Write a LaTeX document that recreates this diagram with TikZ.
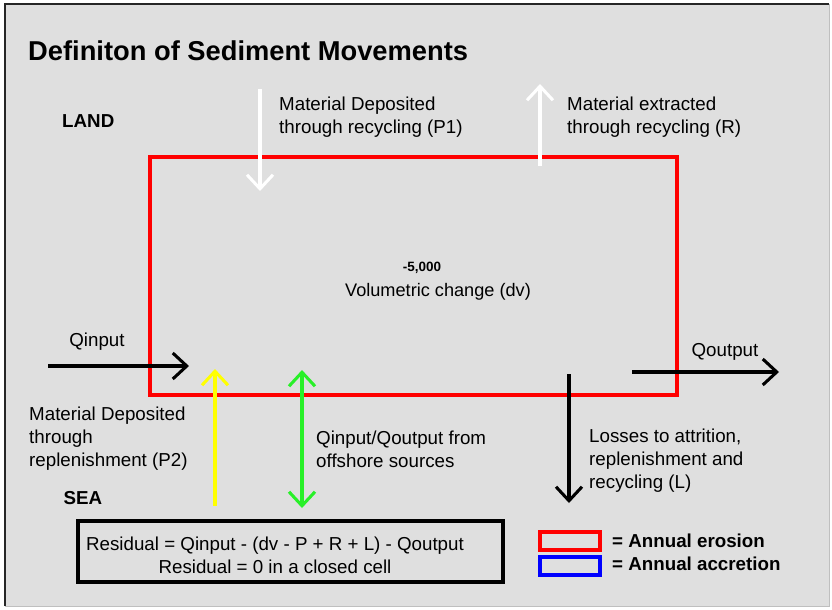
\documentclass[tikz,border=0pt]{standalone}
\usepackage{fontspec}
\setmainfont{Liberation Sans}
\usetikzlibrary{arrows.meta}
\definecolor{panel}{RGB}{223,223,223}
\definecolor{erosion}{RGB}{255,0,0}
\definecolor{accretion}{RGB}{0,0,255}
\definecolor{replen}{RGB}{255,255,0}
\definecolor{offshore}{RGB}{40,240,40}

\begin{document}
\begin{tikzpicture}[x=0.03cm,y=-0.03cm,
		>={Straight Barb[length=4.2mm,width=7.8mm]},
		flow/.style={line width=2.6pt},
		lbl/.style={font=\fontsize{16}{19.6}\selectfont,align=left,anchor=north west,inner sep=0pt},
		tag/.style={font=\fontsize{16}{19.6}\selectfont\bfseries,inner sep=0pt},
		keybox/.style={line width=2.6pt}]
			\useasboundingbox (0,0) rectangle (832,609);
			\fill[panel] (5,4) rectangle (829,606);
			\draw[black!85,line width=1.6pt] (5,606) -- (5,4) -- (829,4);
			\draw[black!25,line width=0.8pt] (829,4) -- (829,606) -- (5,606);

			\node[anchor=north west,inner sep=0pt,font=\fontsize{23.3}{27}\selectfont\bfseries] (title) at (28,40) {Definiton of Sediment Movements};
			\node[tag,anchor=north west] (land) at (62,114) {LAND};
			\node[tag] (sea) at (83,498) {SEA};

			\draw[erosion,line width=3.4pt] (150,157) rectangle (677,395);
			\node[inner sep=0pt,font=\fontsize{11.5}{13}\selectfont\bfseries] (dvnum) at (422,268) {-5,000};
			\node[inner sep=0pt,font=\fontsize{15.5}{19}\selectfont] (dv) at (438,292) {Volumetric change (dv)};

			\coordinate (p1a) at (260,89);
			\coordinate (p1b) at (260,191);
			\draw[flow,white,->] (p1a) -- (p1b);
			\node[lbl] (p1txt) at (279,97) {Material Deposited\\through recycling (P1)};

			\coordinate (ra) at (540,166);
			\coordinate (rb) at (540,84);
			\draw[flow,white,->] (ra) -- (rb);
			\node[lbl] (rtxt) at (567,97) {Material extracted\\through recycling (R)};

			\coordinate (qina) at (48,366);
			\coordinate (qinb) at (189,366);
			\draw[flow,black,->] (qina) -- (qinb);
			\node[lbl,anchor=center] (qin) at (97,342) {Qinput};

			\coordinate (qouta) at (632,372);
			\coordinate (qoutb) at (779,372);
			\draw[flow,black,->] (qouta) -- (qoutb);
			\node[lbl,anchor=center] (qout) at (725,352) {Qoutput};

			\coordinate (p2a) at (215,506);
			\coordinate (p2b) at (215,369);
			\draw[flow,replen,->] (p2a) -- (p2b);
			\node[lbl] (p2txt) at (29,407) {Material Deposited\\through\\replenishment (P2)};

			\coordinate (offa) at (302,370);
			\coordinate (offb) at (302,508);
			\draw[flow,offshore,<->] (offa) -- (offb);
			\node[lbl] (offtxt) at (316,431) {Qinput/Qoutput from\\offshore sources};

			\coordinate (la) at (569,374);
			\coordinate (lb) at (569,503);
			\draw[flow,black,->] (la) -- (lb);
			\node[lbl] (ltxt) at (589,429) {Losses to attrition,\\replenishment and\\recycling (L)};

			\draw[keybox,black] (78,521) rectangle (503,582);
			\node[lbl,anchor=center,align=center] (resid) at (275,555) {Residual = Qinput - (dv - P + R + L) - Qoutput\\Residual = 0 in a closed cell};

			\draw[keybox,erosion] (540,532) rectangle (600,550);
			\draw[keybox,accretion] (540,557) rectangle (600,575);
			\node[tag,anchor=west] (erotxt) at (612,541) {= Annual erosion};
			\node[tag,anchor=west] (acctxt) at (612,564) {= Annual accretion};
		\end{tikzpicture}
\end{document}
